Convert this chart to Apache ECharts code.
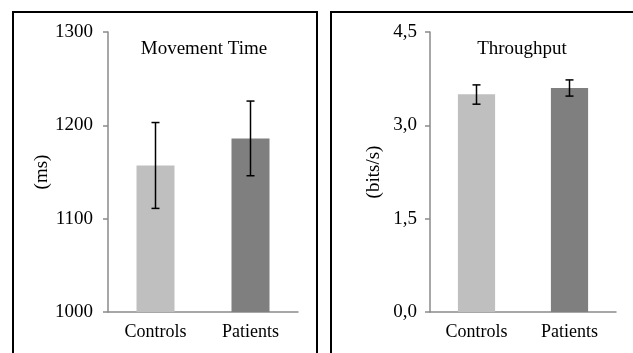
<!DOCTYPE html>
<html>
<head>
<meta charset="utf-8">
<script src="https://cdn.jsdelivr.net/npm/echarts@6/dist/echarts.min.js"></script>
<style>
html,body{margin:0;padding:0;background:#fff;}
#chart{width:633px;height:353px;}
</style>
</head>
<body>
<div id="chart"></div>
<script>
const categories = ['Controls', 'Patients'];
const mtMeans = [1157, 1186];
const mtLower = [1111, 1146];
const mtUpper = [1203, 1226];
const tpMeans = [3.50, 3.60];
const tpLower = [3.34, 3.47];
const tpUpper = [3.65, 3.73];
const mtTicks = [1000, 1100, 1200, 1300];
const tpTicks = [0, 1.5, 3.0, 4.5];

const FONT = '"Liberation Serif", "Times New Roman", serif';
const barColors = ['#bfbfbf', '#7f7f7f'];

function errData(lo, hi) {
  return categories.map((c, i) => [i, lo[i], hi[i]]);
}
function errRender(params, api) {
  const x = api.value(0);
  const lo = api.coord([x, api.value(1)]);
  const hi = api.coord([x, api.value(2)]);
  const hw = 4;
  const st = { stroke: '#000', lineWidth: 1.5 };
  return {
    type: 'group',
    children: [
      { type: 'line', shape: { x1: hi[0], y1: hi[1], x2: lo[0], y2: lo[1] }, style: st },
      { type: 'line', shape: { x1: hi[0] - hw, y1: hi[1], x2: hi[0] + hw, y2: hi[1] }, style: st },
      { type: 'line', shape: { x1: lo[0] - hw, y1: lo[1], x2: lo[0] + hw, y2: lo[1] }, style: st }
    ]
  };
}

const axisLine = { show: true, lineStyle: { color: '#8a8a8a', width: 1.5 } };
const labelStyle = { color: '#000', fontFamily: FONT, fontSize: 18 };
const tickStyle = { color: '#000', fontFamily: FONT, fontSize: 19 };

function xAxis(gi) {
  return {
    type: 'category', gridIndex: gi, data: categories,
    axisLine: axisLine, axisTick: { show: false },
    axisLabel: Object.assign({ margin: 11 }, labelStyle)
  };
}

const chart = echarts.init(document.getElementById('chart'));
chart.setOption({
  animation: false,
  backgroundColor: '#fff',
  title: [
    { text: 'Movement Time', left: 199, top: 35, textAlign: 'center',
      textStyle: { fontFamily: FONT, fontSize: 19, fontWeight: 'normal', color: '#000' } },
    { text: 'Throughput', left: 517, top: 35, textAlign: 'center',
      textStyle: { fontFamily: FONT, fontSize: 19, fontWeight: 'normal', color: '#000' } }
  ],
  graphic: [
    { type: 'polyline', shape: { points: [[13, 360], [13, 12], [317, 12], [317, 360]] },
      style: { stroke: '#000', lineWidth: 2, fill: null } },
    { type: 'polyline', shape: { points: [[331, 360], [331, 12], [640, 12]] },
      style: { stroke: '#000', lineWidth: 2, fill: null } }
  ],
  grid: [
    { left: 108, top: 32, width: 190, height: 280 },
    { left: 430, top: 32, width: 186, height: 280 }
  ],
  xAxis: [xAxis(0), xAxis(1)],
  yAxis: [
    {
      type: 'value', gridIndex: 0,
      min: mtTicks[0], max: mtTicks[mtTicks.length - 1], interval: mtTicks[1] - mtTicks[0],
      axisLine: axisLine, axisTick: { show: true, length: 5, lineStyle: { color: '#8a8a8a', width: 1.5 } },
      splitLine: { show: false },
      axisLabel: Object.assign({ margin: 15, formatter: v => String(v) }, tickStyle),
      name: '(ms)', nameLocation: 'middle', nameRotate: 90, nameGap: 50,
      nameTextStyle: { fontFamily: FONT, fontSize: 19, color: '#000' }
    },
    {
      type: 'value', gridIndex: 1,
      min: tpTicks[0], max: tpTicks[tpTicks.length - 1], interval: tpTicks[1] - tpTicks[0],
      axisLine: axisLine, axisTick: { show: true, length: 5, lineStyle: { color: '#8a8a8a', width: 1.5 } },
      splitLine: { show: false },
      axisLabel: Object.assign({ margin: 13, formatter: v => v.toFixed(1).replace('.', ',') }, tickStyle),
      name: '(bits/s)', nameLocation: 'middle', nameRotate: 90, nameGap: 46,
      nameTextStyle: { fontFamily: FONT, fontSize: 19, color: '#000' }
    }
  ],
  series: [
    {
      type: 'bar', xAxisIndex: 0, yAxisIndex: 0, barWidth: '40%', clip: true,
      data: mtMeans.map((v, i) => ({ value: v, itemStyle: { color: barColors[i] } }))
    },
    {
      type: 'custom', xAxisIndex: 0, yAxisIndex: 0, renderItem: errRender,
      data: errData(mtLower, mtUpper), z: 10
    },
    {
      type: 'bar', xAxisIndex: 1, yAxisIndex: 1, barWidth: '40%', clip: true,
      data: tpMeans.map((v, i) => ({ value: v, itemStyle: { color: barColors[i] } }))
    },
    {
      type: 'custom', xAxisIndex: 1, yAxisIndex: 1, renderItem: errRender,
      data: errData(tpLower, tpUpper), z: 10
    }
  ]
});
</script>
</body>
</html>
